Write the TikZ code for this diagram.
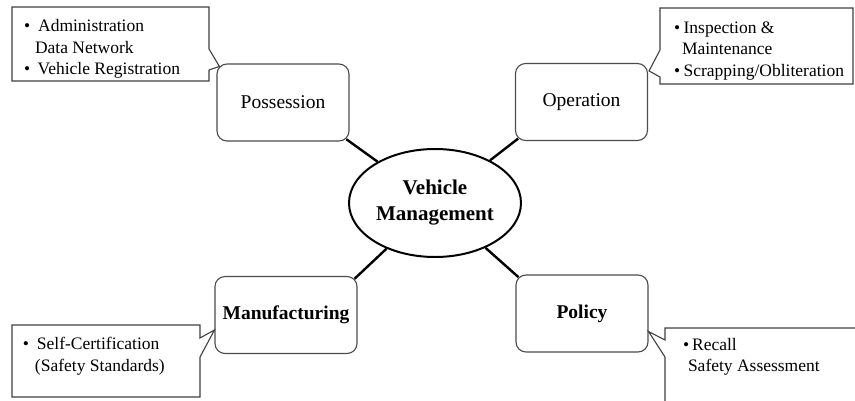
\documentclass[tikz,border=0pt]{standalone}
\usepackage{fontspec}
\setmainfont{Liberation Serif}
\usepackage{xcolor}
\usetikzlibrary{shapes.geometric}

\begin{document}
\begin{tikzpicture}[x=1pt,y=-1pt,
  hub/.style={ellipse, draw, line width=2pt, minimum width=172pt, minimum height=108pt, inner sep=0pt, align=center, font=\fontsize{21}{26}\selectfont\bfseries},
  topic/.style={draw=black!70, line width=1.1pt, rounded corners=10pt, minimum width=132pt, minimum height=77pt, inner sep=0pt, font=\fontsize{19.5}{24}\selectfont},
  link/.style={line width=2.4pt, shorten <=-4pt},
  note/.style={draw=black!75, line width=1.1pt, fill=white},
  notetext/.style={anchor=north west, inner sep=0pt, align=left, font=\fontsize{17.5}{21.5}\selectfont}]
\useasboundingbox (0,0) rectangle (855,400);

\node[hub] (vm) at (435,203) {Vehicle\\Management};
\node[topic] (poss) at (283,102.5) {Possession};
\node[topic] (op) at (581.5,102) {Operation};
\node[topic, minimum width=142pt, font=\fontsize{19.5}{24}\selectfont\bfseries] (man) at (286,315) {Manufacturing};
\node[topic, font=\fontsize{19.5}{24}\selectfont\bfseries] (pol) at (582,313.5) {Policy};

\draw[link] (poss.south east) -- (vm);
\draw[link] (op.south west) -- (vm);
\draw[link] (man.north east) -- (vm);
\draw[link] (pol.north west) -- (vm);

% callouts
\draw[note] (12,7) -- (209,7) -- (209,49) -- ([shift={(3,3)}]poss.north west) -- (209,70) -- (209,81) -- (12,81) -- cycle;
\draw[note] (660,8) -- (853,8) -- (853,84) -- (660,84) -- (660,77) -- ([shift={(1,8)}]op.north east) -- (660,50) -- cycle;
\draw[note] (12,325) -- (200,325) -- (200,338) -- ([shift={(0,15)}]man.west) -- (200,357) -- (200,397) -- (12,397) -- cycle;
\draw[note] (665,328) -- (862,328) -- (862,405) -- (665,405) -- (665,357) -- ([shift={(0,18)}]pol.east) -- (665,340) -- cycle;

\node[notetext] (possnote) at (23.8,19.5) {\textbullet\hspace{8pt}Administration\\\hspace*{11pt}Data Network\\\textbullet\hspace{7.5pt}Vehicle Registration};
\node[notetext] (opnote) at (673.8,21.5) {\textbullet\hspace{3.5pt}Inspection \&\\\hspace*{8pt}Maintenance\\\textbullet\hspace{3.5pt}Scrapping/Obliteration};
\node[notetext] (mannote) at (22.8,337) {\textbullet\hspace{7.8pt}Self-Certification\\\hspace*{12pt}(Safety Standards)};
\node[notetext] (polnote) at (682.8,338) {\textbullet\hspace{3pt}Recall\\\hspace*{5pt}Safety Assessment};
\end{tikzpicture}
\end{document}
